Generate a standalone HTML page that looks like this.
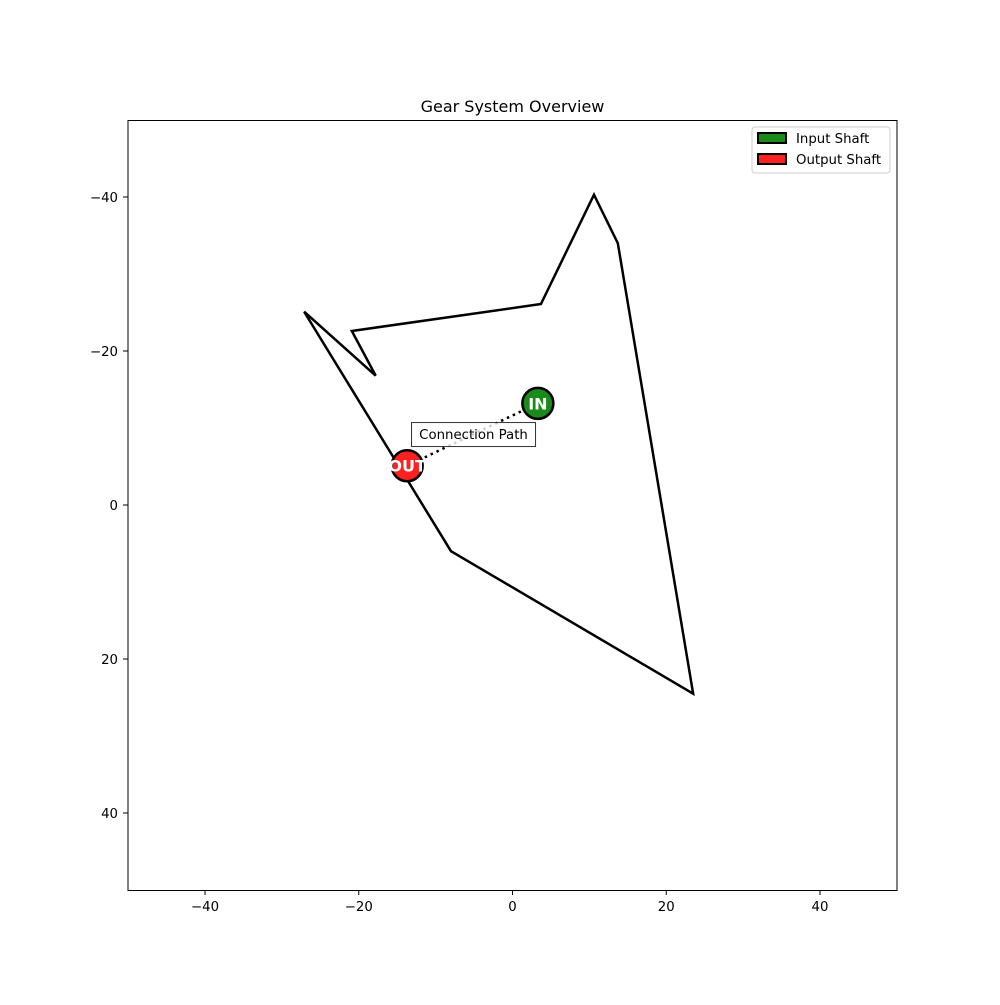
<!DOCTYPE html>
<html><head><meta charset="utf-8"><style>
body{margin:0;background:#fff}
svg{font-family:"DejaVu Sans","Liberation Sans",sans-serif}
</style></head><body>
<svg id="chart" width="1000" height="1000" xmlns="http://www.w3.org/2000/svg">
<rect width="1000" height="1000" fill="#fff"/>
<text x="512.5" y="112" text-anchor="middle" font-size="16">Gear System Overview</text>
<g id="plot"></g>
<rect x="128" y="120.5" width="769" height="770" fill="none" stroke="#000" stroke-width="1"/>
<g>
<rect x="752" y="127" width="138" height="46" rx="3" fill="#fff" stroke="#ccc"/>
<rect x="758" y="133" width="28" height="10" fill="#1a8a1a" stroke="#000" stroke-width="2"/>
<text x="796" y="143" font-size="13.3">Input Shaft</text>
<rect x="758" y="154" width="28" height="10" fill="#ff2020" stroke="#000" stroke-width="2"/>
<text x="796" y="164" font-size="13.3">Output Shaft</text>
</g>
</svg>
<script>
const polyX=[-27.1,-17.8,-20.9,3.7,10.6,13.7,23.5,-8.0];
const polyY=[-25.1,-16.8,-22.6,-26.1,-40.3,-34.0,24.5,6.0];
const shaftNames=["IN","OUT"];
const shaftX=[3.3,-13.7];
const shaftY=[-13.2,-5.1];
const xTicks=[-40,-20,0,20,40];
const yTicks=[-40,-20,0,20,40];
const sx=v=>512.5+v*7.6875;
const sy=v=>505+v*7.7;
const NS="http://www.w3.org/2000/svg";
const g=document.getElementById('plot');
function mk(t,a){const e=document.createElementNS(NS,t);for(const k in a)e.setAttribute(k,a[k]);g.appendChild(e);return e;}
xTicks.forEach(t=>{
 const l=mk('line',{x1:sx(t),x2:sx(t),y1:890.5,y2:895,stroke:'#000'});
 
 
 const tx=mk('text',{x:sx(t),y:911,'text-anchor':'middle','font-size':13.3});
 tx.textContent=(t<0?'\u2212'+(-t):t);
 
 
});
yTicks.forEach(t=>{
 const l=mk('line',{x1:123,x2:128,y1:sy(t),y2:sy(t),stroke:'#000'});
 
 
 const tx=mk('text',{x:118,y:sy(t)+5,'text-anchor':'end','font-size':13.3});
 tx.textContent=(t<0?'\u2212'+(-t):t);
 
 
});
const pts=polyX.map((x,i)=>sx(x)+','+sy(polyY[i])).join(' ');
const poly=mk('polygon',{points:pts,fill:'none',stroke:'#000','stroke-width':2.5,'stroke-linejoin':'miter'});


const cl=mk('line',{x1:sx(shaftX[1]),y1:sy(shaftY[1]),x2:sx(shaftX[0]),y2:sy(shaftY[0]),stroke:'#000','stroke-width':2.5,'stroke-dasharray':'2.5,4'});


const mx=(sx(shaftX[0])+sx(shaftX[1]))/2, my=(sy(shaftY[0])+sy(shaftY[1]))/2;
const lb=mk('rect',{x:mx-61,y:my-12,width:124,height:24,fill:'#fff','fill-opacity':0.8,stroke:'#333'});


const lt=mk('text',{x:mx+1,y:my+4.5,'text-anchor':'middle','font-size':13.3});
lt.textContent='Connection Path';


const cols=['#1a8a1a','#ff2020'];
shaftNames.forEach((n,i)=>{
 const c=mk('circle',{cx:sx(shaftX[i]),cy:sy(shaftY[i]),r:15.5,fill:cols[i],stroke:'#000','stroke-width':2.5});
 
 
 const t=mk('text',{x:sx(shaftX[i]),y:sy(shaftY[i])+6,'text-anchor':'middle','font-size':16,'font-weight':'bold',fill:'#fff'});
 t.textContent=n;
 
 
});
</script>
</body></html>
